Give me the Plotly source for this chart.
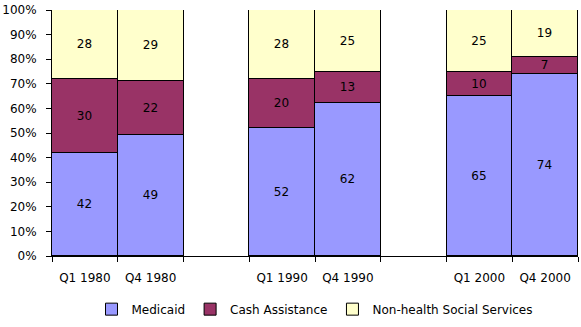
import plotly.graph_objects as go

# categories (blank slots make the gaps between decades)
periods = ["Q1 1980", "Q4 1980", " ", "Q1 1990", "Q4 1990", "  ", "Q1 2000", "Q4 2000"]
bar_periods = ["Q1 1980", "Q4 1980", "Q1 1990", "Q4 1990", "Q1 2000", "Q4 2000"]

medicaid = [42, 49, 52, 62, 65, 74]
cash_assistance = [30, 22, 20, 13, 10, 7]
social_services = [28, 29, 28, 25, 25, 19]

series = [
    ("Medicaid", medicaid, "#9999FF"),
    ("Cash Assistance", cash_assistance, "#993366"),
    ("Non-health Social Services", social_services, "#FFFFCC"),
]

fig = go.Figure()
for name, vals, color in series:
    fig.add_trace(go.Bar(
        x=bar_periods, y=vals, name=name,
        marker=dict(color=color, line=dict(color="black", width=1)),
        text=[str(v) for v in vals], textposition="inside",
        insidetextanchor="middle", textangle=0,
        textfont=dict(color="black", size=12),
    ))

font = "DejaVu Sans, Arial, sans-serif"
fig.update_layout(
    barmode="stack", bargap=0,
    width=581, height=327,
    margin=dict(l=52, r=3, t=10, b=69),
    paper_bgcolor="white", plot_bgcolor="white",
    font=dict(family=font, size=12, color="black"),
    uniformtext=dict(minsize=12, mode="show"),
    # legend bottom sits on the figure edge so it does not push the margin
    legend=dict(orientation="h", x=0.5, xanchor="center", y=-0.275, yanchor="bottom",
                traceorder="normal", font=dict(size=12), itemwidth=30),
)
fig.update_xaxes(
    type="category", categoryorder="array", categoryarray=periods,
    range=[-0.5, 7.5], tickson="boundaries", ticks="outside", ticklen=5,
    tickcolor="black", showline=True, linecolor="black", linewidth=1,
    showgrid=False, automargin=False, ticklabelstandoff=11,
)
fig.update_yaxes(
    range=[0, 100], dtick=10, ticksuffix="%", ticks="outside", ticklen=5,
    tickcolor="black", showline=True, linecolor="black", linewidth=1,
    showgrid=False, zeroline=False, automargin=False, ticklabelstandoff=7,
)

# drop the default page margin / scrollbars so the figure fills the window exactly
page_fix = ("document.documentElement.style.margin='0';"
            "document.documentElement.style.overflow='hidden';"
            "document.body.style.margin='0';"
            "document.body.style.overflow='hidden';")
fig.write_html("out.html", config={"displayModeBar": False}, post_script=page_fix)
